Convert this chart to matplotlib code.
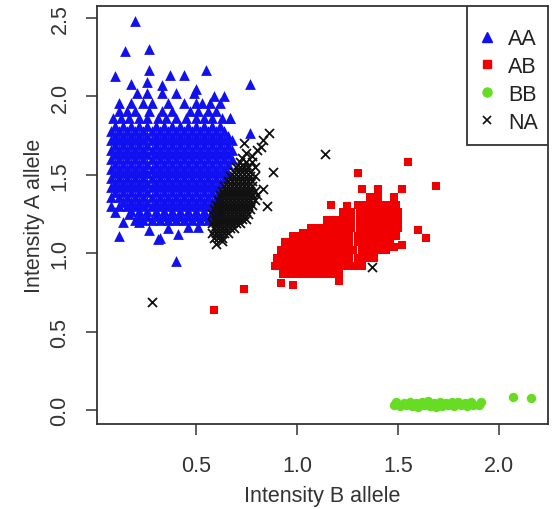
import numpy as np
import matplotlib.pyplot as plt
from matplotlib.lines import Line2D
from matplotlib.patches import Rectangle

plt.rcParams['font.family'] = ['Liberation Sans', 'DejaVu Sans']

# ---- data ----
# AA (blue): dense core, stored as rows of x values at a given y
AA_core_y = [1.21, 1.24, 1.27, 1.30, 1.33, 1.36, 1.39, 1.42, 1.45, 1.48, 1.51,
             1.54, 1.57, 1.60, 1.63, 1.66, 1.69, 1.72, 1.75, 1.78, 1.81]
AA_core_x = [
    [0.20, 0.24, 0.28, 0.32, 0.36, 0.40, 0.44, 0.48, 0.52, 0.56, 0.60],
    [0.22, 0.26, 0.30, 0.34, 0.38, 0.42, 0.46, 0.50, 0.54, 0.58],
    [0.18, 0.22, 0.26, 0.30, 0.34, 0.38, 0.42, 0.46, 0.50, 0.54, 0.58, 0.62],
    [0.16, 0.20, 0.24, 0.28, 0.32, 0.36, 0.40, 0.44, 0.48, 0.52, 0.56, 0.60],
    [0.14, 0.18, 0.22, 0.26, 0.30, 0.34, 0.38, 0.42, 0.46, 0.50, 0.54, 0.58, 0.62],
    [0.08, 0.12, 0.16, 0.20, 0.24, 0.28, 0.32, 0.36, 0.40, 0.44, 0.48, 0.52, 0.56, 0.60],
    [0.10, 0.14, 0.18, 0.22, 0.26, 0.30, 0.34, 0.38, 0.42, 0.46, 0.50, 0.54, 0.58, 0.62],
    [0.08, 0.12, 0.16, 0.20, 0.24, 0.28, 0.32, 0.36, 0.40, 0.44, 0.48, 0.52, 0.56, 0.60],
    [0.10, 0.14, 0.18, 0.22, 0.26, 0.30, 0.34, 0.38, 0.42, 0.46, 0.50, 0.54, 0.58, 0.62],
    [0.08, 0.12, 0.16, 0.20, 0.24, 0.28, 0.32, 0.36, 0.40, 0.44, 0.48, 0.52, 0.56, 0.60, 0.64],
    [0.10, 0.14, 0.18, 0.22, 0.26, 0.30, 0.34, 0.38, 0.42, 0.46, 0.50, 0.54, 0.58, 0.62, 0.66],
    [0.08, 0.12, 0.16, 0.20, 0.24, 0.28, 0.32, 0.36, 0.40, 0.44, 0.48, 0.52, 0.56, 0.60, 0.64],
    [0.10, 0.14, 0.18, 0.22, 0.26, 0.30, 0.34, 0.38, 0.42, 0.46, 0.50, 0.54, 0.58, 0.62, 0.66],
    [0.08, 0.12, 0.16, 0.20, 0.24, 0.28, 0.32, 0.36, 0.40, 0.44, 0.48, 0.52, 0.56, 0.60, 0.64, 0.68],
    [0.10, 0.14, 0.18, 0.22, 0.26, 0.30, 0.34, 0.38, 0.42, 0.46, 0.50, 0.54, 0.58, 0.62, 0.66],
    [0.08, 0.12, 0.16, 0.20, 0.24, 0.28, 0.32, 0.36, 0.40, 0.44, 0.48, 0.52, 0.56, 0.60, 0.64, 0.68],
    [0.10, 0.14, 0.18, 0.22, 0.26, 0.30, 0.34, 0.38, 0.42, 0.46, 0.50, 0.54, 0.58, 0.62, 0.66],
    [0.08, 0.12, 0.16, 0.20, 0.24, 0.28, 0.32, 0.36, 0.40, 0.44, 0.48, 0.52, 0.56, 0.60, 0.64, 0.68],
    [0.10, 0.14, 0.18, 0.22, 0.26, 0.30, 0.34, 0.38, 0.42, 0.46, 0.50, 0.54, 0.58, 0.62, 0.66],
    [0.08, 0.12, 0.16, 0.20, 0.24, 0.28, 0.32, 0.36, 0.40, 0.44, 0.48, 0.52, 0.56, 0.60, 0.64],
    [0.10, 0.14, 0.18, 0.22, 0.26, 0.30, 0.34, 0.38, 0.42, 0.46, 0.50, 0.54, 0.58, 0.62],
]
# AA (blue): ragged edges and outliers
AA_x = [0.09, 0.13, 0.17, 0.22, 0.26, 0.31, 0.35, 0.40, 0.45, 0.50, 0.54, 0.58, 0.63, 0.67,
        0.12, 0.16, 0.20, 0.27, 0.33, 0.38, 0.47, 0.51, 0.56, 0.60,
        0.12, 0.18, 0.24, 0.28, 0.36, 0.44, 0.50, 0.53, 0.57, 0.62,
        0.21, 0.26, 0.33, 0.40, 0.49, 0.59, 0.64,
        0.18, 0.26, 0.33, 0.50, 0.55, 0.77, 0.10, 0.27, 0.37, 0.44,
        0.15, 0.27, 0.20, 0.77, 0.67,
        0.08, 0.12, 0.10, 0.17, 0.14, 0.22, 0.27, 0.32, 0.41, 0.46, 0.36, 0.12, 0.31, 0.51, 0.40]
AA_y = [1.86, 1.86, 1.86, 1.86, 1.86, 1.86, 1.86, 1.86, 1.86, 1.86, 1.86, 1.86, 1.86, 1.86,
        1.91, 1.91, 1.91, 1.91, 1.91, 1.91, 1.91, 1.91, 1.91, 1.91,
        1.96, 1.96, 1.96, 1.96, 1.96, 1.96, 1.96, 1.96, 1.96, 1.96,
        2.02, 2.02, 2.02, 2.02, 2.02, 2.00, 2.00,
        2.08, 2.09, 2.07, 2.05, 2.17, 2.08, 2.13, 2.17, 2.14, 2.14,
        2.29, 2.30, 2.48, 1.77, 1.86,
        1.30, 1.30, 1.26, 1.25, 1.20, 1.20, 1.15, 1.10, 1.12, 1.17, 1.16, 1.11, 1.09, 1.17, 0.95]

# AB (red): dense core rows
AB_core_y = [0.87, 0.92, 0.97, 1.02, 1.07, 1.11, 1.16, 1.21, 1.26, 1.31, 1.36]
AB_core_x = [
    [0.93, 0.97, 1.01, 1.05, 1.09, 1.13, 1.17, 1.21],
    [0.89, 0.93, 0.97, 1.01, 1.05, 1.09, 1.13, 1.17, 1.21, 1.25, 1.29, 1.32],
    [0.90, 0.94, 0.98, 1.02, 1.06, 1.10, 1.14, 1.18, 1.22, 1.26, 1.30, 1.34, 1.38],
    [0.92, 0.96, 1.00, 1.04, 1.08, 1.12, 1.16, 1.20, 1.24, 1.28, 1.32, 1.36, 1.40, 1.44],
    [0.94, 0.98, 1.02, 1.06, 1.10, 1.14, 1.18, 1.22, 1.26, 1.30, 1.34, 1.38, 1.42, 1.46],
    [0.98, 1.02, 1.06, 1.10, 1.14, 1.18, 1.22, 1.26, 1.30, 1.34, 1.38, 1.42, 1.46, 1.49],
    [1.07, 1.11, 1.15, 1.19, 1.23, 1.27, 1.31, 1.35, 1.39, 1.43, 1.47, 1.50],
    [1.15, 1.19, 1.23, 1.27, 1.31, 1.35, 1.39, 1.43, 1.47, 1.50],
    [1.23, 1.27, 1.31, 1.35, 1.39, 1.43, 1.47, 1.50],
    [1.30, 1.34, 1.38, 1.42, 1.46, 1.49],
    [1.36, 1.40, 1.48],
]
# AB (red): outliers
AB_x = [0.59, 0.74, 0.92, 0.98, 1.21, 1.55, 1.30, 1.69, 1.32, 1.17, 1.52, 1.48,
        1.60, 1.64, 1.48, 1.52, 1.25, 1.40, 1.03, 1.08]
AB_y = [0.64, 0.77, 0.81, 0.80, 0.82, 1.58, 1.51, 1.43, 1.41, 1.31, 1.41, 1.35,
        1.15, 1.10, 1.04, 1.05, 1.30, 1.41, 1.13, 1.15]

# BB (green)
BB_x = [1.48, 1.51, 1.54, 1.57, 1.60, 1.63, 1.66, 1.69, 1.72, 1.75, 1.78, 1.81, 1.84, 1.87, 1.90,
        1.49, 1.53, 1.56, 1.59, 1.62, 1.65, 1.68, 1.71, 1.74, 1.77, 1.80, 1.83, 1.86, 1.91,
        2.07, 2.16]
BB_y = [0.030, 0.025, 0.030, 0.028, 0.022, 0.030, 0.025, 0.020, 0.028, 0.030, 0.025, 0.030, 0.028, 0.032, 0.030,
        0.050, 0.048, 0.052, 0.046, 0.050, 0.055, 0.048, 0.050, 0.046, 0.052, 0.050, 0.048, 0.050, 0.052,
        0.080, 0.075]

# NA (black): dense core rows
NA_core_y = [1.10, 1.13, 1.16, 1.19, 1.22, 1.25, 1.28, 1.31, 1.34, 1.37, 1.40,
             1.43, 1.46, 1.49, 1.52, 1.55, 1.58]
NA_core_x = [
    [0.59, 0.61, 0.63],
    [0.58, 0.60, 0.62, 0.64, 0.66],
    [0.59, 0.61, 0.63, 0.65, 0.67, 0.69],
    [0.58, 0.60, 0.62, 0.64, 0.66, 0.68, 0.70, 0.72],
    [0.59, 0.61, 0.63, 0.65, 0.67, 0.69, 0.71, 0.73, 0.75],
    [0.58, 0.60, 0.62, 0.64, 0.66, 0.68, 0.70, 0.72, 0.74, 0.76],
    [0.59, 0.61, 0.63, 0.65, 0.67, 0.69, 0.71, 0.73, 0.75, 0.77],
    [0.60, 0.62, 0.64, 0.66, 0.68, 0.70, 0.72, 0.74, 0.76, 0.78],
    [0.61, 0.63, 0.65, 0.67, 0.69, 0.71, 0.73, 0.75, 0.77, 0.79],
    [0.62, 0.64, 0.66, 0.68, 0.70, 0.72, 0.74, 0.76, 0.78, 0.80],
    [0.63, 0.65, 0.67, 0.69, 0.71, 0.73, 0.75, 0.77, 0.79],
    [0.64, 0.66, 0.68, 0.70, 0.72, 0.74, 0.76, 0.78],
    [0.66, 0.68, 0.70, 0.72, 0.74, 0.76, 0.78],
    [0.67, 0.69, 0.71, 0.73, 0.75, 0.77, 0.79],
    [0.69, 0.71, 0.73, 0.75, 0.77],
    [0.70, 0.72, 0.74, 0.76, 0.79],
    [0.72, 0.75, 0.78],
]
# NA (black): sparse points and outliers
NA_x = [0.60, 0.63, 0.86, 0.83, 0.88, 0.82, 0.78, 0.83, 0.85, 0.75, 0.73, 0.80, 0.74,
        0.28, 1.14, 1.37]
NA_y = [1.06, 1.08, 1.77, 1.72, 1.52, 1.68, 1.62, 1.41, 1.30, 1.64, 1.61, 1.66, 1.70,
        0.69, 1.63, 0.91]

x_ticks = [0.5, 1.0, 1.5, 2.0]
y_ticks = [0.0, 0.5, 1.0, 1.5, 2.0, 2.5]
legend_labels = ["AA", "AB", "BB", "NA"]


def flatten(rows_y, rows_x):
    xs, ys = [], []
    for y, row in zip(rows_y, rows_x):
        xs.extend(row)
        ys.extend([y] * len(row))
    return xs, ys


aa_cx, aa_cy = flatten(AA_core_y, AA_core_x)
ab_cx, ab_cy = flatten(AB_core_y, AB_core_x)
na_cx, na_cy = flatten(NA_core_y, NA_core_x)

c_blue = "#1010f0"
c_red = "#f00000"
c_green = "#66dd22"
c_black = "#111111"
c_axis = "#333333"

fig = plt.figure(figsize=(5.58, 5.10), dpi=100)
ax = fig.add_axes([0.1738, 0.1667, 0.8082, 0.8196])

ax.scatter(aa_cx + AA_x, aa_cy + AA_y, marker="^", s=60, color=c_blue, linewidths=0)
ax.scatter(ab_cx + AB_x, ab_cy + AB_y, marker="s", s=34, color=c_red, linewidths=0)
ax.scatter(BB_x, BB_y, marker="o", s=46, color=c_green, linewidths=0)
ax.scatter(na_cx + NA_x, na_cy + NA_y, marker="x", s=42, color=c_black, linewidths=1.3)

ax.set_xlim(0.01, 2.243)
ax.set_ylim(-0.089, 2.577)
ax.set_xticks(x_ticks)
ax.set_yticks(y_ticks)
ax.set_xticklabels([f"{v:.1f}" for v in x_ticks])
ax.set_yticklabels([f"{v:.1f}" for v in y_ticks], rotation=90, va="center")

fs = 15.5
ax.tick_params(direction="out", length=8, width=1.1, labelsize=fs,
               colors=c_axis, labelcolor=c_axis)
ax.tick_params(axis="x", pad=14)
ax.tick_params(axis="y", pad=11)
for sp in ax.spines.values():
    sp.set_linewidth(1.3)
    sp.set_color(c_axis)

ax.set_xlabel("Intensity B allele", fontsize=fs, color=c_axis, labelpad=7)
ax.set_ylabel("Intensity A allele", fontsize=fs, color=c_axis, labelpad=3)

handles = [
    Line2D([], [], marker="^", linestyle="none", color=c_blue, markersize=7),
    Line2D([], [], marker="s", linestyle="none", color=c_red, markersize=6),
    Line2D([], [], marker="o", linestyle="none", color=c_green, markersize=6.5),
    Line2D([], [], marker="x", linestyle="none", color=c_black, markersize=6, markeredgewidth=1.2),
]
# legend box drawn separately (R style: more padding top/bottom than sides)
ax.add_patch(Rectangle((0.820, 0.667), 0.180, 0.333, transform=ax.transAxes,
                       facecolor="white", edgecolor=c_axis, linewidth=1.3, zorder=4))
leg = ax.legend(handles, legend_labels, loc="upper left", bbox_to_anchor=(0.842, 0.947),
                borderaxespad=0, borderpad=0, fontsize=fs, frameon=False,
                handlelength=1.0, handletextpad=0.47, labelspacing=0.32)
leg.set_zorder(5)
for t in leg.get_texts():
    t.set_color("#222222")

fig.savefig("out.png", dpi=100)
